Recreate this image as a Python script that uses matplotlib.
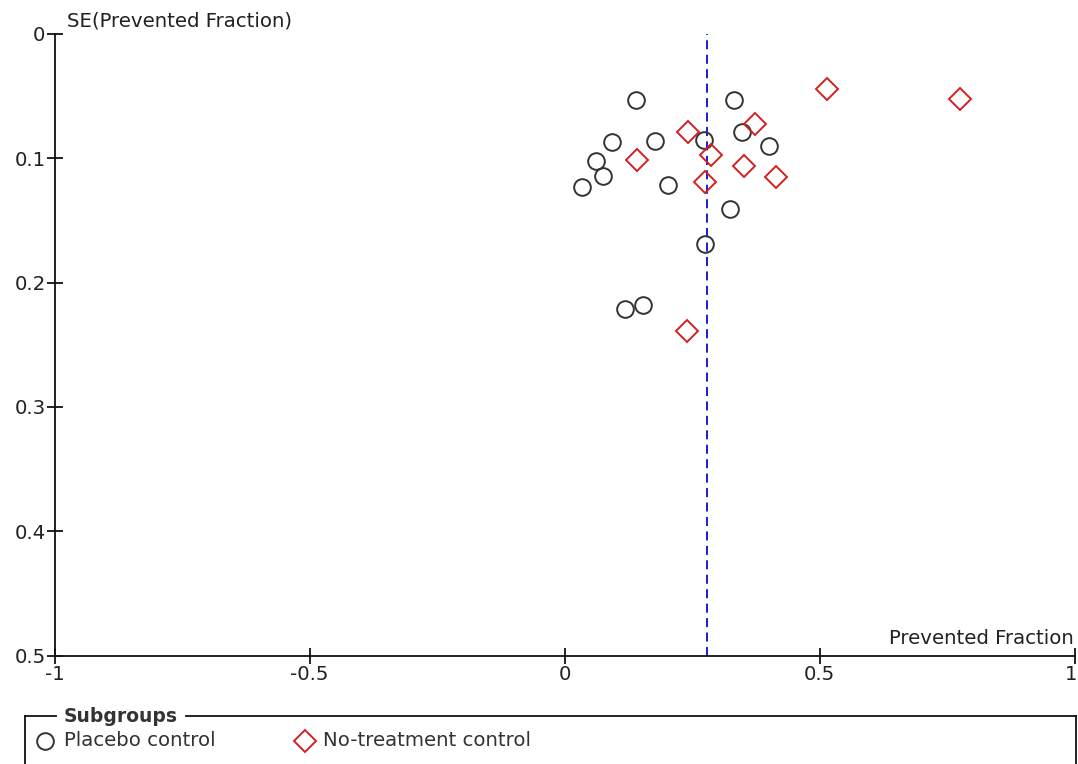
import matplotlib
matplotlib.use("Agg")
import matplotlib.pyplot as plt
import matplotlib.transforms as mtransforms
from matplotlib.lines import Line2D

# Study estimates: prevented fraction and its standard error
placebo_pf = [0.141, 0.332, 0.093, 0.177, 0.274, 0.347, 0.401, 0.061,
              0.075, 0.035, 0.202, 0.325, 0.275, 0.118, 0.154]
placebo_se = [0.0531, 0.0531, 0.0871, 0.0858, 0.0853, 0.0786, 0.0901, 0.1019,
              0.1142, 0.1229, 0.1215, 0.1410, 0.1692, 0.2215, 0.2180]

notreat_pf = [0.242, 0.374, 0.142, 0.287, 0.351, 0.276, 0.414, 0.240, 0.515, 0.775]
notreat_se = [0.0786, 0.0726, 0.1014, 0.0971, 0.1060, 0.1193, 0.1148, 0.2387,
              0.0445, 0.0525]

pooled_pf = 0.279

x_ticks = [-1, -0.5, 0, 0.5, 1]
x_tick_labels = ["-1", "-0.5", "0", "0.5", "1"]
y_ticks = [0, 0.1, 0.2, 0.3, 0.4, 0.5]
y_tick_labels = ["0", "0.1", "0.2", "0.3", "0.4", "0.5"]

FONT = "DejaVu Sans"
TXT = "#222222"
FS = 14.2

fig = plt.figure(figsize=(10.78, 7.64), dpi=100)
ax = fig.add_axes([0.0506, 0.1418, 0.9462, 0.8137])

ax.set_xlim(-1, 1)
ax.set_ylim(0.5, 0)

ax.axvline(pooled_pf, color="#0a0acc", lw=1.3, ls=(0, (5, 3)), zorder=1)

ax.plot(placebo_pf, placebo_se, ls="none", marker="o", ms=12,
        mfc="none", mec="#333333", mew=1.4, zorder=3)
ax.plot(notreat_pf, notreat_se, ls="none", marker="D", ms=11.5,
        mfc="none", mec="#d42020", mew=1.4, zorder=3)

for s in ("top", "right"):
    ax.spines[s].set_visible(False)
for s in ("left", "bottom"):
    ax.spines[s].set_linewidth(1.3)
    ax.spines[s].set_color("#111111")

ax.set_xticks(x_ticks)
ax.set_xticklabels(x_tick_labels)
ax.set_yticks(y_ticks)
ax.set_yticklabels(y_tick_labels)
ax.tick_params(axis="both", direction="inout", length=11, width=1.3,
               color="#111111", labelsize=FS, labelcolor=TXT, pad=1)
for lab in ax.get_xticklabels() + ax.get_yticklabels():
    lab.set_fontfamily(FONT)

# keep the rightmost x label inside the canvas
last = ax.get_xticklabels()[-1]
last.set_transform(last.get_transform() +
                   mtransforms.ScaledTranslation(-3 / 100, 0, fig.dpi_scale_trans))

ax.text(0.012, 1.005, "SE(Prevented Fraction)", transform=ax.transAxes,
        ha="left", va="bottom", fontsize=FS, family=FONT, color=TXT)
ax.text(0.999, 0.012, "Prevented Fraction", transform=ax.transAxes,
        ha="right", va="bottom", fontsize=FS, family=FONT, color=TXT)

# Subgroup legend box drawn in figure coordinates
W, H = 1078.0, 764.0
def fx(px):
    return px / W
def fy(py):
    return 1 - py / H

box_top = fy(716)
lines = [
    ([fx(25), fx(25)], [box_top, fy(770)]),
    ([fx(25), fx(56)], [box_top, box_top]),
    ([fx(186), fx(1076)], [box_top, box_top]),
    ([fx(1076), fx(1076)], [box_top, fy(770)]),
]
for xs, ys in lines:
    fig.add_artist(Line2D(xs, ys, color="#111111", lw=1.3))

fig.text(fx(64), box_top, "Subgroups", ha="left", va="center",
         fontsize=13.5, fontweight="bold", family=FONT, color="#333333")

fig.add_artist(Line2D([fx(45)], [fy(741)], marker="o", ms=12, mfc="none",
                      mec="#333333", mew=1.4, ls="none"))
fig.text(fx(64), fy(741), "Placebo control", ha="left", va="center",
         fontsize=FS, family=FONT, color="#333333")
fig.add_artist(Line2D([fx(305)], [fy(741)], marker="D", ms=11.5, mfc="none",
                      mec="#d42020", mew=1.4, ls="none"))
fig.text(fx(323), fy(741), "No-treatment control", ha="left", va="center",
         fontsize=FS, family=FONT, color="#333333")

fig.savefig("out.png", dpi=100)
